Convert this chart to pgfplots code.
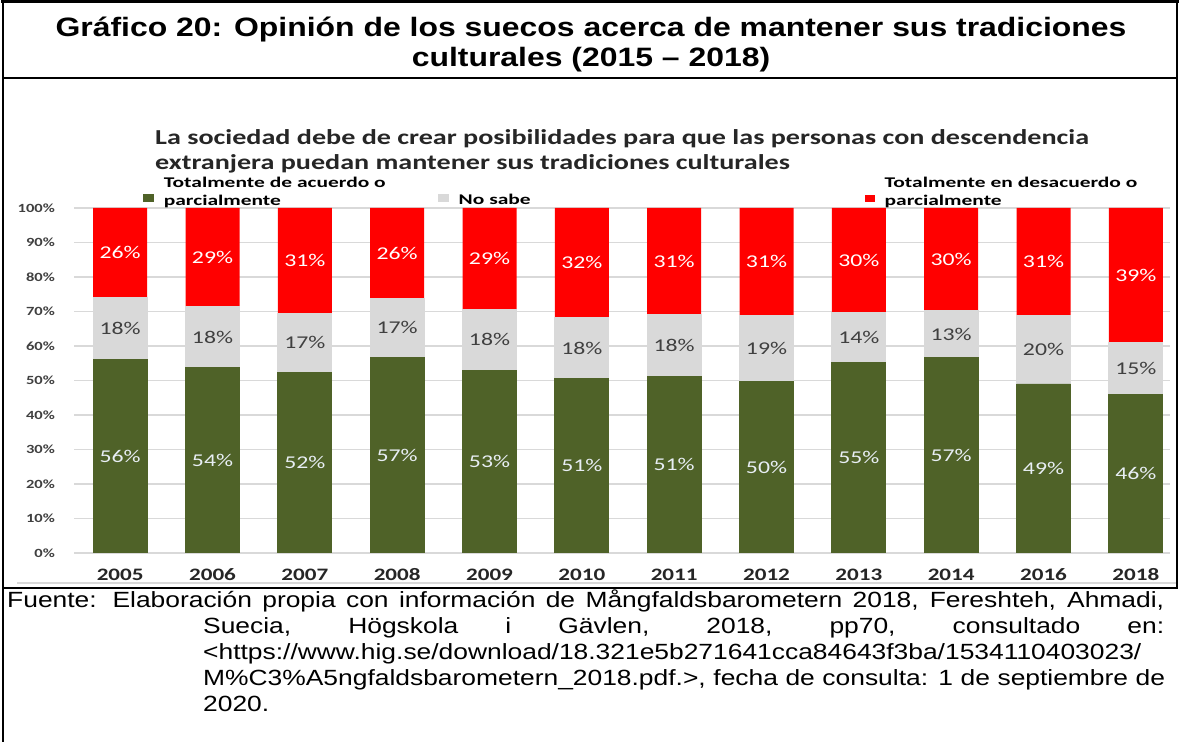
\documentclass[border=0pt]{standalone}
\usepackage{pgfplots}
\pgfplotsset{compat=1.18}
\usepackage{pgfplotstable}
\usepackage{fontspec}
\setmainfont{Liberation Sans}
\newfontfamily\arialx[FakeStretch=1.2]{Liberation Sans}
\newfontfamily\cf[FakeStretch=1.32]{Carlito}
\newfontfamily\cfl[FakeStretch=1.45]{Carlito}
\definecolor{cgreen}{HTML}{4F6228}
\definecolor{cgray}{HTML}{D9D9D9}
\definecolor{cred}{HTML}{FF0000}
\definecolor{gridc}{HTML}{D9D9D9}
\definecolor{tickc}{HTML}{404040}
\definecolor{nlab}{HTML}{404040}
\definecolor{glab}{HTML}{E8EEF4}
\definecolor{yearc}{HTML}{262626}

% segment heights (g = totalmente de acuerdo, n = no sabe, r = desacuerdo) and printed labels
\pgfplotstableread{
x g n r gl nl rl
0 56.2 17.8 26.0 56 18 26
1 53.7 17.7 28.6 54 18 29
2 52.3 17.2 30.5 52 17 31
3 56.7 17.1 26.2 57 17 26
4 53.0 17.7 29.3 53 18 29
5 50.5 17.8 31.7 51 18 32
6 51.2 18.0 30.8 51 18 31
7 49.8 19.1 31.1 50 19 31
8 55.2 14.5 30.3 55 14 30
9 56.7 13.5 29.8 57 13 30
10 49.0 19.9 31.1 49 20 31
11 45.9 15.1 39.0 46 15 39
}\datatab

\begin{document}
\begin{tikzpicture}[x=1bp,y=1bp]
\path[use as bounding box] (0,0) rectangle (1180,742);
% frame
\draw[line width=2.5bp] (1.5,740.5) -- (1178.5,740.5);
\draw[line width=2.5bp] (3,742) -- (3,0);
\draw[line width=2.5bp] (1177,742) -- (1177,154);
\draw[line width=2bp] (2,664) -- (1178,664);
\draw[line width=2bp] (2,154) -- (1178,154);
\draw[gridc, line width=1.5bp] (17,159) -- (1176,159);
% main title
\node[anchor=base, inner sep=0pt, font=\arialx\bfseries\fontsize{26.6bp}{30bp}\selectfont] at (591,705) {Gráfico 20: Opinión de los suecos acerca de mantener sus tradiciones};
\node[anchor=base, inner sep=0pt, font=\arialx\bfseries\fontsize{26.6bp}{30bp}\selectfont] at (591,675) {culturales (2015 – 2018)};
% chart title
\node[anchor=base west, inner sep=0pt, text=yearc, font=\cf\bfseries\fontsize{21.3bp}{24bp}\selectfont] at (155,597) {La sociedad debe de crear posibilidades para que las personas con descendencia};
\node[anchor=base west, inner sep=0pt, text=yearc, font=\cf\bfseries\fontsize{21.3bp}{24bp}\selectfont] at (155,572) {extranjera puedan mantener sus tradiciones culturales};
% footer
\begin{scope}[every node/.style={anchor=base west, inner sep=0pt, font=\arialx\fontsize{22bp}{26bp}\selectfont}]
\node at (7,134) {\makebox[1157bp][s]{Fuente: Elaboración propia con información de Mångfaldsbarometern 2018, Fereshteh, Ahmadi,}};
\node at (203,108) {\makebox[961bp][s]{Suecia, Högskola i Gävlen, 2018, pp70, consultado en:}};
\node at (203,82) {<https://www.hig.se/download/18.321e5b271641cca84643f3ba/1534110403023/};
\node at (203,56) {\makebox[962bp][s]{M\%C3\%A5ngfaldsbarometern\_2018.pdf.>, fecha de consulta: 1 de septiembre de}};
\node at (203,30) {2020.};
\end{scope}
\begin{axis}[
  at={(74bp,189bp)}, anchor=south west,
  scale only axis, width=1096bp, height=345bp,
  xmin=-0.5, xmax=11.37, ymin=0, ymax=100,
  ybar, bar width=54bp,
  axis line style={draw=none},
  major tick length=0pt,
  ymajorgrids, grid style={gridc, line width=1.4bp},
  ytick={0,10,20,30,40,50,60,70,80,90,100},
  yticklabels={0\%,10\%,20\%,30\%,40\%,50\%,60\%,70\%,80\%,90\%,100\%},
  yticklabel style={anchor=base east, inner sep=0pt, xshift=-19bp, yshift=-4.3bp, text=tickc, font=\cf\bfseries\fontsize{12.5bp}{14bp}\selectfont},
  xtick={0,1,2,3,4,5,6,7,8,9,10,11},
  xticklabels={2005,2006,2007,2008,2009,2010,2011,2012,2013,2014,2016,2018},
  xticklabel style={anchor=base, inner sep=0pt, yshift=-28bp, text=yearc, font=\cf\bfseries\fontsize{17.5bp}{18bp}\selectfont},
  legend columns=3, reverse legend,
  legend style={at={(axis description cs:0.063,1.09)}, anchor=north west, draw=none, fill=none, inner sep=0pt, outer sep=0pt, column sep=0pt, row sep=0pt,
    font=\cfl\bfseries\fontsize{14.8bp}{18bp}\selectfont,
    /tikz/every odd column/.append style={column sep=10bp},
    nodes={inner sep=0pt, outer sep=0pt}},
  label node/.style={draw=none, fill=none, bar shift=0pt, forget plot, point meta=explicit symbolic,
    nodes near coords={\pgfplotspointmeta\%},
    every node near coord/.append style={anchor=center, inner sep=0pt, font=\cf\fontsize{18bp}{19bp}\selectfont, text=#1}},
]
% bars drawn back to front: each bar reaches the top of its segment
\addplot[fill=cred, draw=none, bar shift=0pt,
  legend image code/.code={\fill[cred] (0bp,-19bp) rectangle (10bp,-12bp);}
] table[x=x, y expr=\thisrow{g}+\thisrow{n}+\thisrow{r}] {\datatab};
\addlegendentry[text width=300bp, align=left]{Totalmente en desacuerdo o\\parcialmente}
\addplot[fill=cgray, draw=cgray, line width=0.8bp, bar shift=0pt,
  legend image code/.code={\fill[cgray] (0bp,-19bp) rectangle (10bp,-12bp);}
] table[x=x, y expr=\thisrow{g}+\thisrow{n}] {\datatab};
\addlegendentry[text width=406bp, align=left]{\vphantom{T}\\No sabe\vphantom{p}}
\addplot[fill=cgreen, draw=cgreen, line width=0.8bp, bar shift=0pt,
  legend image code/.code={\fill[cgreen] (0bp,-19bp) rectangle (10bp,-12bp);}
] table[x=x, y=g] {\datatab};
\addlegendentry[text width=274bp, align=left]{Totalmente de acuerdo o\\parcialmente}
% segment labels, centred in each segment
\addplot[label node=glab] table[x=x, y expr=\thisrow{g}/2, meta=gl] {\datatab};
\addplot[label node=nlab] table[x=x, y expr=\thisrow{g}+\thisrow{n}/2, meta=nl] {\datatab};
\addplot[label node=white] table[x=x, y expr=\thisrow{g}+\thisrow{n}+\thisrow{r}/2, meta=rl] {\datatab};
\end{axis}
\end{tikzpicture}
\end{document}
